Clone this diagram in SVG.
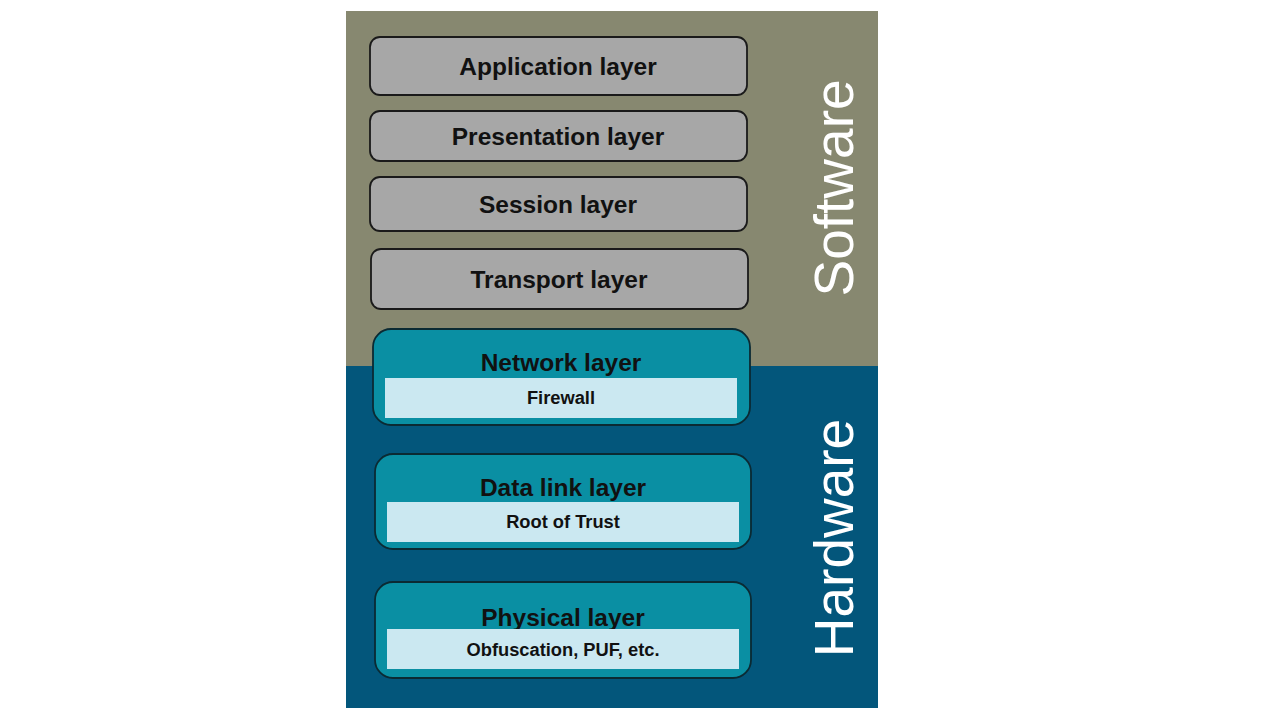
<svg xmlns="http://www.w3.org/2000/svg" width="1280" height="721" viewBox="0 0 1280 721">
<style>
.sw{fill:#a7a7a7;stroke:#1a1a1a;stroke-width:1.8}
.hw{fill:#0a8fa3;stroke:#0b2a33;stroke-width:1.8}
.inner{fill:#cbe8f1}
.t{font-family:"Liberation Sans",Arial,sans-serif;font-weight:bold;font-size:24.5px;fill:#111;text-anchor:middle}
.s{font-family:"Liberation Sans",Arial,sans-serif;font-weight:bold;font-size:18.3px;fill:#111;text-anchor:middle}
.big{font-family:"Liberation Sans",Arial,sans-serif;font-size:55px;fill:#fff;text-anchor:middle}
</style>
<rect width="1280" height="721" fill="#fff"/>
<g id="background">
<rect x="346" y="11" width="532" height="356" fill="#878870"/>
<rect x="346" y="366" width="532" height="342" fill="#03567b"/>
</g>
<g id="software-label"><text class="big" transform="translate(853,188) rotate(-90)">Software</text></g>
<g id="hardware-label"><text class="big" transform="translate(853,538) rotate(-90)">Hardware</text></g>
<g id="application"><rect class="sw" x="370" y="37" width="377" height="58" rx="10"/><text class="t" x="558" y="75">Application layer</text></g>
<g id="presentation"><rect class="sw" x="370" y="111" width="377" height="50" rx="10"/><text class="t" x="558" y="145">Presentation layer</text></g>
<g id="session"><rect class="sw" x="370" y="177" width="377" height="54" rx="10"/><text class="t" x="558" y="213">Session layer</text></g>
<g id="transport"><rect class="sw" x="371" y="249" width="377" height="60" rx="10"/><text class="t" x="559" y="288">Transport layer</text></g>
<g id="network"><rect class="hw" x="373" y="329" width="377" height="96" rx="18"/><text class="t" x="561" y="371">Network layer</text><rect class="inner" x="385" y="378" width="352" height="40"/><text class="s" x="561" y="404">Firewall</text></g>
<g id="datalink"><rect class="hw" x="375" y="454" width="376" height="95" rx="18"/><text class="t" x="563" y="496">Data link layer</text><rect class="inner" x="387" y="502" width="352" height="40"/><text class="s" x="563" y="528">Root of Trust</text></g>
<g id="physical"><rect class="hw" x="375" y="582" width="376" height="96" rx="18"/><text class="t" x="563" y="626">Physical layer</text><rect class="inner" x="387" y="629" width="352" height="40"/><text class="s" x="563" y="656">Obfuscation, PUF, etc.</text></g>
<g id="connectors"/>
</svg>
